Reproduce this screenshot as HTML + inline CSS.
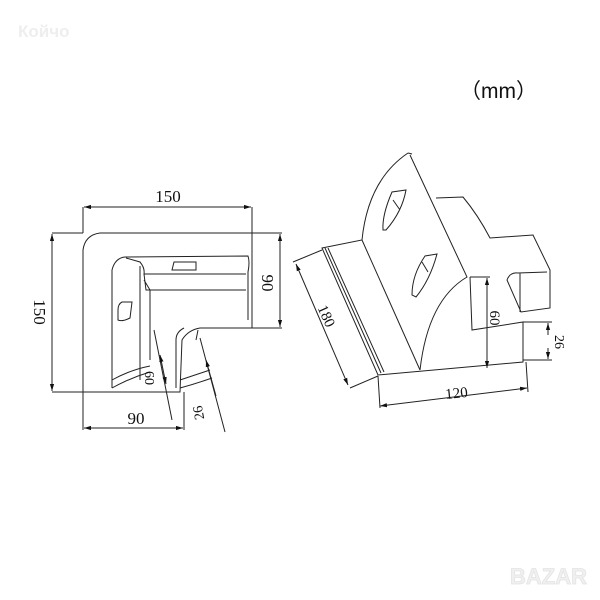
<!DOCTYPE html>
<html><head><meta charset="utf-8"><style>
html,body{margin:0;padding:0;background:#fff;width:600px;height:600px;overflow:hidden}
svg{display:block}
text{font-family:"Liberation Serif",serif;fill:#111}
</style></head><body>
<svg width="600" height="600" viewBox="0 0 600 600" xmlns="http://www.w3.org/2000/svg">
<defs>
<marker id="a" viewBox="0 0 10 10" refX="10" refY="5" markerWidth="7" markerHeight="7" orient="auto-start-reverse"><path d="M0,2 L10,5 L0,8z" fill="#111"/></marker>
</defs>
<text x="18" y="37" font-weight="bold" font-size="17" style="fill:#eee;font-family:'Liberation Sans',sans-serif">Койчо</text>
<text x="460" y="98" font-size="21" style="font-family:'Liberation Sans','Noto Sans CJK SC',sans-serif">（mm）</text>
<text x="510" y="584" font-size="22" font-weight="bold" style="fill:#f0f0f0;stroke:#e4e4e4;stroke-width:0.8;font-family:'Liberation Sans',sans-serif">BAZAR</text>

<g fill="none" stroke="#222" stroke-width="1">
<!-- left part -->
<path d="M83,392 L83,250 Q85,235 100,233 L252,233 L252,328 L200,328 Q188,330 182,340 L180,392 Z"/>
<path d="M112,388 L112,270 Q115,258 125,257 L248,256 Q250,262 248,272 L248,320"/>
<path d="M126,258 L140,262 Q145,268 144,274 L246,274 M144,274 L146,290 L246,290 M144,280 L150,290 L150,360"/>
<path d="M140,266 L140,380 M184,328 Q176,332 176,340 L176,388 M198,330 L196,340"/>
<path d="M112,380 Q130,370 150,366 M112,388 Q130,378 150,372 M180,380 Q195,375 210,370 M180,388 Q195,384 212,378"/>
<path d="M174,262 L172,270 L196,270 L196,262 Z"/>
<path d="M118,310 Q118,304 122,302 L132,302 L130,318 Q122,322 118,320 Z"/>
<!-- dims left -->
<line x1="83" y1="207" x2="83" y2="233"/><line x1="252" y1="207" x2="252" y2="233"/>
<line x1="84" y1="207" x2="251" y2="207" marker-start="url(#a)" marker-end="url(#a)"/>
<line x1="52" y1="233" x2="83" y2="233"/><line x1="52" y1="392" x2="83" y2="392"/>
<line x1="52" y1="234" x2="52" y2="391" marker-start="url(#a)" marker-end="url(#a)"/>
<line x1="252" y1="233" x2="282" y2="233"/><line x1="252" y1="328" x2="282" y2="328"/>
<line x1="280" y1="234" x2="280" y2="327" marker-start="url(#a)" marker-end="url(#a)"/>
<line x1="83" y1="392" x2="83" y2="430"/><line x1="184" y1="392" x2="184" y2="430"/>
<line x1="84" y1="428" x2="183" y2="428" marker-start="url(#a)" marker-end="url(#a)"/>
<line x1="154" y1="330" x2="172" y2="420"/><line x1="160" y1="355" x2="166" y2="384" marker-end="url(#a)" marker-start="url(#a)"/>
<line x1="200" y1="338" x2="225" y2="432"/><line x1="206" y1="360" x2="216" y2="396" marker-start="url(#a)"/>
<!-- right part -->
<path d="M408,153 Q368,180 362,240 L322,248 L378,375 L523,362 L523,322 L472,330 L470,277"/>
<path d="M410,155 L467,277 Q428,300 420,370"/>
<path d="M408,153 L412,154"/>
<path d="M362,240 L420,370"/>
<path d="M325,248 L381,373 M328,248 L384,372"/>
<path d="M436,198 L463,197 Q478,215 490,238 L533,235 L550,270 L550,308 L521,312 L507,280 Q510,272 518,273 L547,272 M520,273 L520,312"/>
<path d="M383,230 Q382,215 392,192 L406,190 Q402,212 386,230 Z M393,200 L400,210"/>
<path d="M412,295 Q412,275 425,256 L437,254 Q430,280 416,297 Z M422,262 L428,272"/>
<!-- dims right -->
<line x1="293" y1="262" x2="322" y2="250"/><line x1="350" y1="388" x2="378" y2="376"/>
<line x1="296" y1="264" x2="348" y2="385" marker-start="url(#a)" marker-end="url(#a)"/>
<line x1="378" y1="376" x2="380" y2="408"/><line x1="526" y1="362" x2="528" y2="392"/>
<line x1="380" y1="406" x2="527" y2="388" marker-start="url(#a)" marker-end="url(#a)"/>
<line x1="470" y1="277" x2="490" y2="277"/><line x1="487" y1="278" x2="487" y2="368" marker-start="url(#a)" marker-end="url(#a)"/>
<line x1="523" y1="322" x2="552" y2="322"/><line x1="523" y1="360" x2="552" y2="360"/>
<line x1="548" y1="335" x2="548" y2="323" marker-end="url(#a)"/><line x1="548" y1="348" x2="548" y2="359" marker-end="url(#a)"/>
</g>
<text x="168" y="202" font-size="17" text-anchor="middle">150</text>
<text transform="translate(34,312) rotate(90)" font-size="17" text-anchor="middle">150</text>
<text transform="translate(262,283) rotate(90)" font-size="17" text-anchor="middle">90</text>
<text x="136" y="424" font-size="17" text-anchor="middle">90</text>
<text transform="translate(145,378) rotate(90)" font-size="14" text-anchor="middle">60</text>
<text transform="translate(203,412) rotate(-100)" font-size="14" text-anchor="middle">26</text>
<text transform="translate(322,318) rotate(66)" font-size="15" text-anchor="middle">180</text>
<text x="457" y="398" font-size="15" text-anchor="middle" transform="rotate(-6 457 398)">120</text>
<text transform="translate(490,318) rotate(90)" font-size="15" text-anchor="middle">60</text>
<text transform="translate(555,342) rotate(90)" font-size="14" text-anchor="middle">26</text>
</svg>
</body></html>
